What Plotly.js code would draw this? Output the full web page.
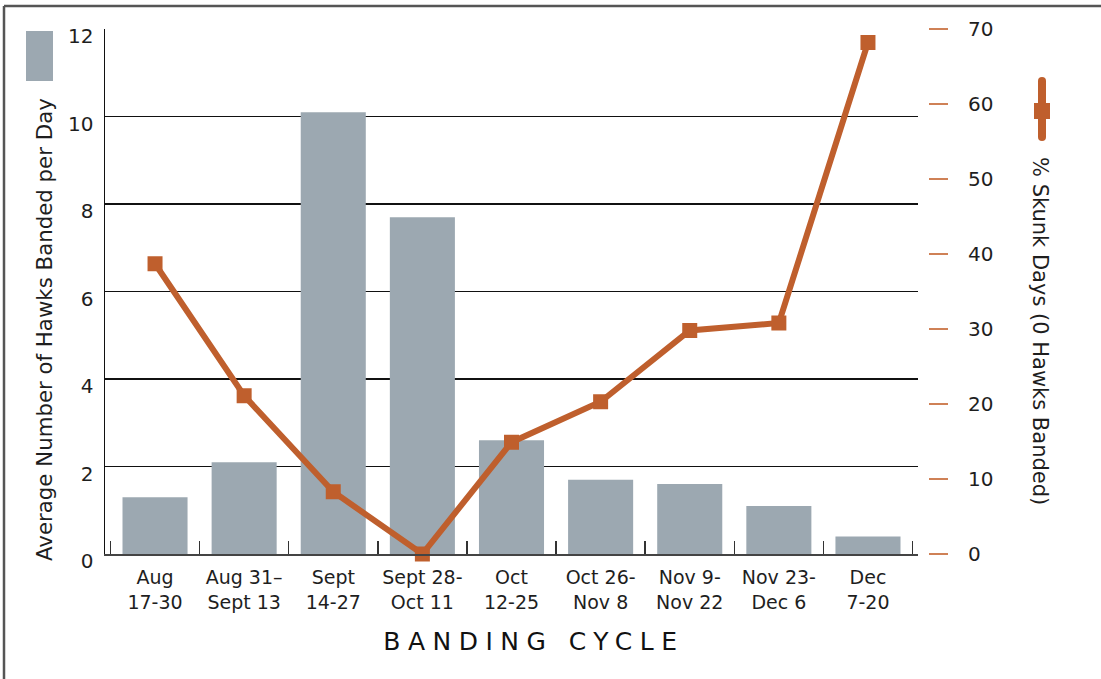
<!DOCTYPE html>
<html>
<head>
<meta charset="utf-8">
<script src="https://cdn.plot.ly/plotly-3.0.1.min.js"></script>
<style>
  html, body { margin: 0; padding: 0; background: #fff; }
  #chart { width: 1101px; height: 679px; }
</style>
</head>
<body>
<div id="chart"></div>
<script>
// ---- data ----
const categories = [
  "Aug<br>17-30", "Aug 31–<br>Sept 13", "Sept<br>14-27", "Sept 28-<br>Oct 11",
  "Oct<br>12-25", "Oct 26-<br>Nov 8", "Nov 9-<br>Nov 22", "Nov 23-<br>Dec 6", "Dec<br>7-20"
];
const avgHawksPerDay = [1.3, 2.1, 10.1, 7.7, 2.6, 1.7, 1.6, 1.1, 0.4];
const pctSkunkDays = [38.7, 21.1, 8.3, 0, 14.9, 20.3, 29.8, 30.8, 68.2];
const leftTicks = [0, 2, 4, 6, 8, 10, 12];
const rightTicks = [0, 10, 20, 30, 40, 50, 60, 70];

// ---- style ----
const BAR = "#9CA8B1";
const ORANGE = "#BF5F2D";
const TXT = "#1e1e1e";
const FONT = "DejaVu Sans, Open Sans, sans-serif";

// geometry helpers (pixel -> paper)
const L = 105, PW = 823, T = 29, PH = 525;
const px = v => (v - L) / PW;
const py = v => (T + PH - v) / PH;

const traces = [
  {
    type: "bar", x: categories, y: avgHawksPerDay, yaxis: "y",
    marker: { color: BAR }, width: 0.73, hoverinfo: "skip", showlegend: false
  },
  {
    type: "scatter", mode: "lines+markers", x: categories, y: pctSkunkDays, yaxis: "y2",
    line: { color: ORANGE, width: 6 },
    marker: { symbol: "square", size: 15, color: ORANGE },
    cliponaxis: false, hoverinfo: "skip", showlegend: false
  }
];

const layout = {
  width: 1101, height: 679,
  margin: { l: L, r: 1101 - L - PW, t: T, b: 679 - T - PH, pad: 0 },
  paper_bgcolor: "#fff", plot_bgcolor: "rgba(0,0,0,0)",
  font: { family: FONT, color: TXT, size: 19 },
  showlegend: false,
  bargap: 0.27,
  xaxis: {
    type: "category", domain: [0, 813 / PW],
    tickson: "boundaries", ticks: "inside", ticklen: 13, tickwidth: 1.5, tickcolor: "#333",
    showline: true, linecolor: "#444", linewidth: 2,
    showgrid: false, zeroline: false,
    tickangle: 0, ticklabelstandoff: 5,
    tickfont: { family: FONT, size: 19, color: TXT },
    fixedrange: true
  },
  yaxis: {
    range: [0, 12], tickvals: leftTicks, ticktext: leftTicks.map(String),
    showgrid: true, gridcolor: "#111", gridwidth: 1.3,
    showline: true, linecolor: "#111", linewidth: 1.5,
    zeroline: false, ticks: "",
    ticklabelstandoff: 6, ticklabelshift: 7,
    tickfont: { family: FONT, size: 20, color: TXT },
    fixedrange: true
  },
  yaxis2: {
    overlaying: "y", side: "right", anchor: "free", position: 1,
    range: [0, 70], tickvals: rightTicks, ticktext: rightTicks.map(String),
    showgrid: false, showline: false, zeroline: false,
    ticks: "outside", ticklen: 19, tickwidth: 1.5, tickcolor: "#CF8156",
    ticklabelstandoff: 16,
    tickfont: { family: FONT, size: 20, color: TXT },
    fixedrange: true
  },
  annotations: [
    {
      text: "Average Number of Hawks Banded per Day", xref: "paper", yref: "paper",
      x: px(45), y: py(330), textangle: -90, showarrow: false,
      xanchor: "center", yanchor: "middle",
      font: { family: FONT, size: 21.3, color: TXT }
    },
    {
      text: "% Skunk Days (0 Hawks Banded)", xref: "paper", yref: "paper",
      x: px(1040), y: py(331), textangle: 90, showarrow: false,
      xanchor: "center", yanchor: "middle",
      font: { family: FONT, size: 21, color: TXT }
    },
    {
      text: "BANDING CYCLE", xref: "paper", yref: "paper",
      x: px(534), y: py(641), showarrow: false,
      xanchor: "center", yanchor: "middle",
      font: { family: FONT, size: 25, color: "#111" }
    }
  ],
  shapes: [
    // outer frame (top + left)
    { type: "line", xref: "paper", yref: "paper", x0: px(4), x1: px(1110), y0: py(6), y1: py(6),
      line: { color: "#555", width: 2.5 } },
    { type: "line", xref: "paper", yref: "paper", x0: px(4), x1: px(4), y0: py(6), y1: py(690),
      line: { color: "#555", width: 2.5 } },
    // legend swatch for bars
    { type: "rect", xref: "paper", yref: "paper", x0: px(26), x1: px(53), y0: py(81), y1: py(31),
      fillcolor: BAR, line: { width: 0 } },
    // legend swatch for line (rounded vertical bar + square)
    { type: "rect", xref: "paper", yref: "paper", x0: px(1038), x1: px(1046), y0: py(137), y1: py(81),
      fillcolor: ORANGE, line: { width: 0 } },
    { type: "circle", xref: "paper", yref: "paper", x0: px(1038), x1: px(1046), y0: py(85), y1: py(77),
      fillcolor: ORANGE, line: { width: 0 } },
    { type: "circle", xref: "paper", yref: "paper", x0: px(1038), x1: px(1046), y0: py(141), y1: py(133),
      fillcolor: ORANGE, line: { width: 0 } },
    { type: "rect", xref: "paper", yref: "paper", x0: px(1034), x1: px(1050), y0: py(119), y1: py(103),
      fillcolor: ORANGE, line: { width: 0 } }
  ]
};

Plotly.newPlot("chart", traces, layout, { displayModeBar: false, staticPlot: true }).then(() => {
  document.querySelectorAll(".annotation-text").forEach(t => {
    if (t.textContent === "BANDING CYCLE") t.style.letterSpacing = "7.5px";
  });
});
</script>
</body>
</html>
